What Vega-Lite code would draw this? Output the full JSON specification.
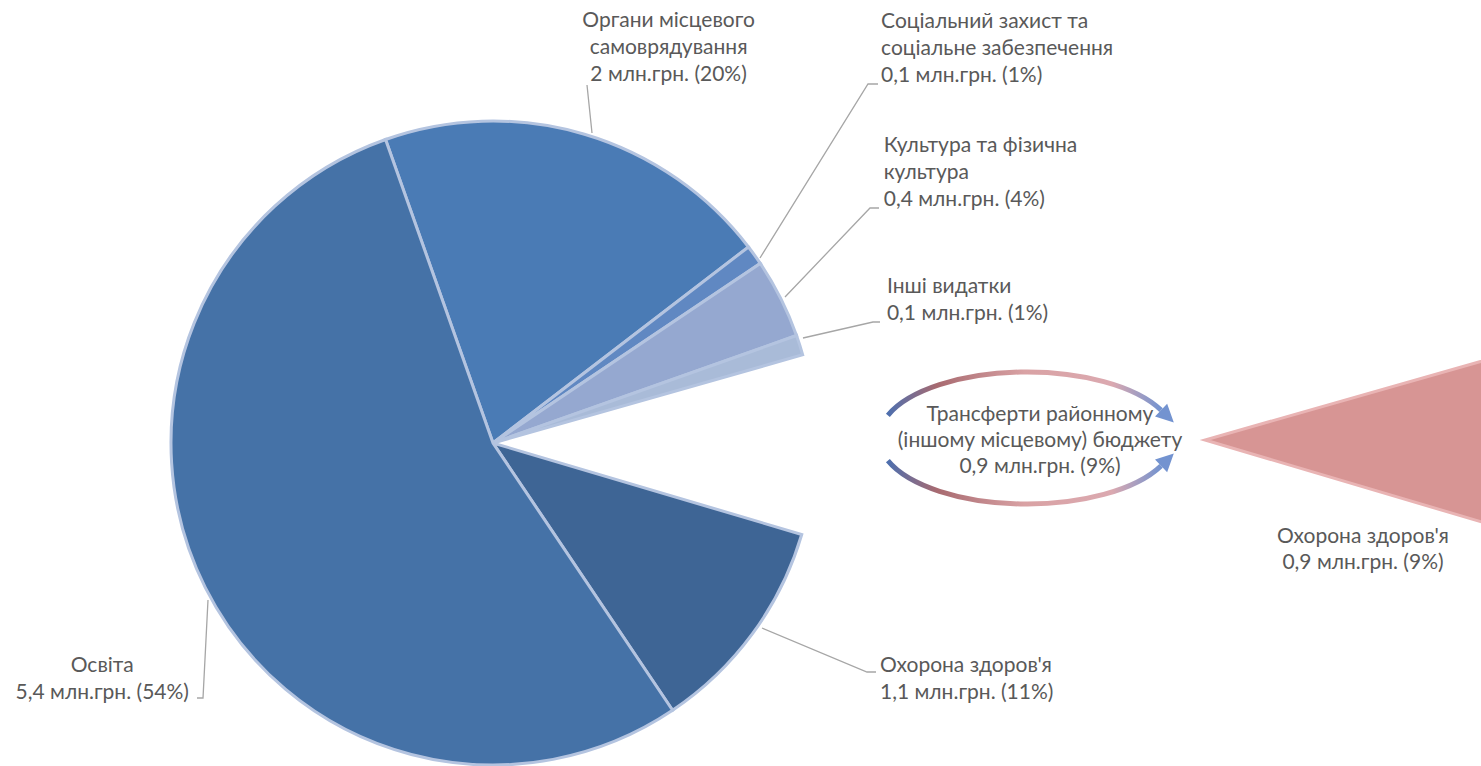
{
  "$schema": "https://vega.github.io/schema/vega-lite/v6.json",
  "width": 1481,
  "height": 766,
  "autosize": "none",
  "padding": 0,
  "background": "white",
  "config": {"view": {"stroke": null}},
  "encoding": {
    "x": {"datum": 493, "type": "quantitative", "scale": {"domain": [0, 1481], "nice": false, "zero": false}, "axis": null},
    "y": {"datum": 443, "type": "quantitative", "scale": {"domain": [0, 766], "reverse": true, "nice": false, "zero": false}, "axis": null}
  },
  "layer": [
    {
      "data": {
        "values": [
          {"ord": 1, "key": "Органи", "value": 2, "label": "Органи місцевого\nсамоврядування\n2 млн.грн. (20%)", "detail": ""},
          {"ord": 2, "key": "Соціальний", "value": 0.1, "label": "Соціальний захист та\nсоціальне забезпечення\n0,1 млн.грн. (1%)", "detail": ""},
          {"ord": 3, "key": "Культура", "value": 0.4, "label": "Культура та фізична\nкультура\n0,4 млн.грн. (4%)", "detail": ""},
          {"ord": 4, "key": "Інші", "value": 0.1, "label": "Інші видатки\n0,1 млн.грн. (1%)", "detail": ""},
          {"ord": 5, "key": "Трансферти", "value": 0.9, "label": "Трансферти районному\n(іншому місцевому) бюджету\n0,9 млн.грн. (9%)", "detail": "Охорона здоров'я\n0,9 млн.грн. (9%)"},
          {"ord": 6, "key": "Охорона", "value": 1.1, "label": "Охорона здоров'я\n1,1 млн.грн. (11%)", "detail": ""},
          {"ord": 7, "key": "Освіта", "value": 5.4, "label": "Освіта\n5,4 млн.грн. (54%)", "detail": ""}
        ]
      },
      "encoding": {
        "theta": {"field": "value", "type": "quantitative", "stack": true, "scale": {"range": [-0.3403, 5.9429]}},
        "order": {"field": "ord", "type": "quantitative"}
      },
      "layer": [
        {
          "mark": {"type": "arc", "outerRadius": 322, "stroke": "#b4c4e0", "strokeWidth": 3},
          "encoding": {
            "color": {
              "field": "key", "type": "nominal", "legend": null,
              "scale": {
                "domain": ["Органи", "Соціальний", "Культура", "Інші", "Трансферти", "Охорона", "Освіта"],
                "range": ["#4a7bb5", "#6088c2", "#95a8d0", "#a9bbd8", "#ffffff", "#3e6595", "#4572a7"]
              }
            },
            "opacity": {"condition": {"test": "datum.key === 'Трансферти'", "value": 0}, "value": 1}
          }
        },
        {
          "mark": {"type": "arc", "outerRadius": 620, "fill": "#d79594", "stroke": "#e9b4b4", "strokeWidth": 3, "clip": true},
          "encoding": {
            "x": {"datum": 1205, "type": "quantitative"},
            "y": {"datum": 440, "type": "quantitative"},
            "opacity": {"condition": {"test": "datum.key === 'Трансферти'", "value": 1}, "value": 0}
          }
        },
        {
          "mark": {"type": "text", "radius": 340, "dx": 79, "dy": -96, "align": "center", "baseline": "middle", "fontSize": 21, "font": "Lato, Open Sans, sans-serif", "color": "#595959", "lineBreak": "\n", "lineHeight": 27},
          "encoding": {"text": {"condition": {"test": "datum.key === 'Органи'", "field": "label", "type": "nominal"}, "value": ""}}
        },
        {
          "mark": {"type": "text", "radius": 340, "dx": 112, "dy": -223, "align": "left", "baseline": "middle", "fontSize": 21, "font": "Lato, Open Sans, sans-serif", "color": "#595959", "lineBreak": "\n", "lineHeight": 27},
          "encoding": {"text": {"condition": {"test": "datum.key === 'Соціальний'", "field": "label", "type": "nominal"}, "value": ""}}
        },
        {
          "mark": {"type": "text", "radius": 340, "dx": 87, "dy": -144, "align": "left", "baseline": "middle", "fontSize": 21, "font": "Lato, Open Sans, sans-serif", "color": "#595959", "lineBreak": "\n", "lineHeight": 27},
          "encoding": {"text": {"condition": {"test": "datum.key === 'Культура'", "field": "label", "type": "nominal"}, "value": ""}}
        },
        {
          "mark": {"type": "text", "radius": 340, "dx": 70, "dy": -53, "align": "left", "baseline": "middle", "fontSize": 21, "font": "Lato, Open Sans, sans-serif", "color": "#595959", "lineBreak": "\n", "lineHeight": 27},
          "encoding": {"text": {"condition": {"test": "datum.key === 'Інші'", "field": "label", "type": "nominal"}, "value": ""}}
        },
        {
          "mark": {"type": "text", "radius": 340, "dx": 207, "dy": -30, "align": "center", "baseline": "middle", "fontSize": 21, "font": "Lato, Open Sans, sans-serif", "color": "#595959", "lineBreak": "\n", "lineHeight": 26},
          "encoding": {"text": {"condition": {"test": "datum.key === 'Трансферти'", "field": "label", "type": "nominal"}, "value": ""}}
        },
        {
          "mark": {"type": "text", "radius": 340, "dx": 113, "dy": 22, "align": "left", "baseline": "middle", "fontSize": 21, "font": "Lato, Open Sans, sans-serif", "color": "#595959", "lineBreak": "\n", "lineHeight": 27},
          "encoding": {"text": {"condition": {"test": "datum.key === 'Охорона'", "field": "label", "type": "nominal"}, "value": ""}}
        },
        {
          "mark": {"type": "text", "radius": 340, "dx": -87, "dy": 70, "align": "center", "baseline": "middle", "fontSize": 21, "font": "Lato, Open Sans, sans-serif", "color": "#595959", "lineBreak": "\n", "lineHeight": 27},
          "encoding": {"text": {"condition": {"test": "datum.key === 'Освіта'", "field": "label", "type": "nominal"}, "value": ""}}
        },
        {
          "mark": {"type": "text", "radius": 160, "dx": -2, "dy": 96, "align": "center", "baseline": "middle", "fontSize": 21, "font": "Lato, Open Sans, sans-serif", "color": "#595959", "lineBreak": "\n", "lineHeight": 26},
          "encoding": {
            "x": {"datum": 1205, "type": "quantitative"},
            "y": {"datum": 440, "type": "quantitative"},
            "text": {"condition": {"test": "datum.key === 'Трансферти'", "field": "detail", "type": "nominal"}, "value": ""}
          }
        }
      ]
    },
    {
      "data": {"values": [{"item": "leaders"}]},
      "mark": {
        "type": "point", "filled": false, "opacity": 1, "size": 40000, "stroke": "#a6a6a6", "strokeWidth": 1.3,
        "shape": "M 0.94 -3.58 L 0.99 -3.10 M 2.67 -1.85 L 3.75 -3.59 L 3.85 -3.59 M 2.92 -1.46 L 3.77 -2.35 L 3.86 -2.35 M 3.10 -1.05 L 3.80 -1.21 L 3.87 -1.21 M 2.69 1.85 L 3.74 2.29 L 3.83 2.29 M -2.85 1.57 L -2.90 2.55 L -2.96 2.55"
      }
    },
    {
      "data": {"values": [{"item": "arrows"}]},
      "mark": {
        "type": "point", "filled": false, "opacity": 1, "size": 87616, "strokeWidth": 5, "strokeCap": "butt",
        "stroke": {"gradient": "linear", "x1": 0, "y1": 0, "x2": 1, "y2": 0, "stops": [
          {"offset": 0, "color": "#4e6fae"},
          {"offset": 0.18, "color": "#a86a70"},
          {"offset": 0.5, "color": "#d9a2a4"},
          {"offset": 0.82, "color": "#dba9b0"},
          {"offset": 1, "color": "#7393d0"}
        ]},
        "shape": "M -0.94 -0.153 A 1 0.446 0 0 1 0.906 -0.188 M -0.94 0.153 A 1 0.446 0 0 0 0.906 0.188"
      },
      "encoding": {
        "x": {"datum": 1027, "type": "quantitative"},
        "y": {"datum": 438, "type": "quantitative"}
      }
    },
    {
      "data": {"values": [{"item": "arrowheads"}]},
      "mark": {
        "type": "point", "filled": true, "opacity": 1, "size": 87616, "fill": "#7393d0", "strokeWidth": 0,
        "shape": "M 0.865 -0.145 L 0.992 -0.105 L 0.947 -0.231 Z M 0.865 0.145 L 0.992 0.105 L 0.947 0.231 Z"
      },
      "encoding": {
        "x": {"datum": 1027, "type": "quantitative"},
        "y": {"datum": 438, "type": "quantitative"}
      }
    }
  ]
}
